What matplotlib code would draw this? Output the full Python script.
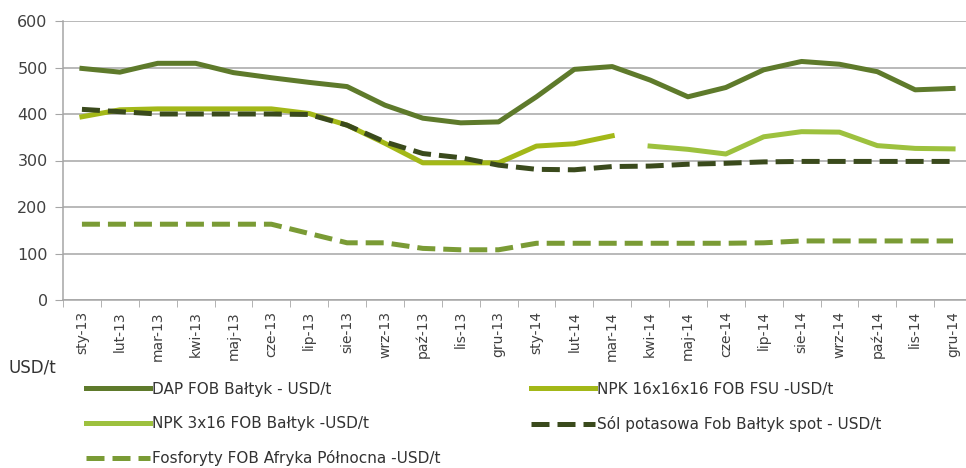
import numpy as np
import matplotlib
matplotlib.use("Agg")
import matplotlib.pyplot as plt

months = ["sty-13", "lut-13", "mar-13", "kwi-13", "maj-13", "cze-13", "lip-13", "sie-13",
          "wrz-13", "paź-13", "lis-13", "gru-13", "sty-14", "lut-14", "mar-14", "kwi-14",
          "maj-14", "cze-14", "lip-14", "sie-14", "wrz-14", "paź-14", "lis-14", "gru-14"]

dap = [498, 490, 509, 509, 489, 478, 468, 459, 419, 391, 381, 383,
       437, 496, 502, 473, 437, 457, 495, 513, 507, 491, 452, 455]
npk16 = [394, 409, 411, 411, 411, 411, 401, 376, 337, 295, 295, 295,
         331, 336, 353, np.nan, np.nan, np.nan, np.nan, np.nan, np.nan, np.nan, np.nan, np.nan]
npk3 = [np.nan] * 15 + [331, 324, 314, 351, 362, 361, 332, 326, 325]
sol = [410, 405, 400, 400, 400, 400, 399, 376, 340, 315, 306, 290,
       281, 280, 287, 288, 292, 294, 297, 298, 298, 298, 298, 298]
fosf = [163, 163, 163, 163, 163, 163, 143, 123, 123, 111, 108, 108,
        122, 122, 122, 122, 122, 122, 123, 127, 127, 127, 127, 127]

labels = ["DAP FOB Bałtyk - USD/t", "NPK 16x16x16 FOB FSU -USD/t",
          "NPK 3x16 FOB Bałtyk -USD/t", "Sól potasowa Fob Bałtyk spot - USD/t",
          "Fosforyty FOB Afryka Północna -USD/t"]
yticks = [0, 100, 200, 300, 400, 500, 600]

plt.rcParams['font.family'] = ['DejaVu Sans']

fig = plt.figure(figsize=(9.66, 4.68), dpi=100)
W, H = 966, 468
ax = fig.add_axes([63 / W, (H - 300) / H, (972 - 63) / W, (300 - 21) / H])

x = np.arange(len(months))
lw = 3.6
c_dap, c_npk16, c_npk3, c_sol, c_fosf = "#5E7A2B", "#A3B818", "#9DC13E", "#3A4A1C", "#7A9B35"

h1, = ax.plot(x, dap, color=c_dap, lw=lw, solid_joinstyle='round', label=labels[0])
h2, = ax.plot(x, npk16, color=c_npk16, lw=lw, solid_joinstyle='round', label=labels[1])
h3, = ax.plot(x, npk3, color=c_npk3, lw=lw, solid_joinstyle='round', label=labels[2])
h4, = ax.plot(x, sol, color=c_sol, lw=lw, linestyle=(0, (3.6, 1.6)), label=labels[3])
h5, = ax.plot(x, fosf, color=c_fosf, lw=lw, linestyle=(0, (3.6, 1.6)), label=labels[4])

ax.set_xlim(-0.5, len(months) - 0.5)
ax.set_ylim(0, 600)
ax.set_yticks(yticks)
ax.set_yticklabels([str(v) for v in yticks], fontsize=11.5, color="#404040")
ax.yaxis.grid(True, color="#A6A6A6", lw=1.1)
ax.set_axisbelow(True)
ax.tick_params(axis='y', length=6, color="#A6A6A6", pad=5)

ax.set_xticks(x)
ax.set_xticklabels(months, rotation=90, fontsize=10, color="#404040")
ax.set_xticks(np.arange(-0.5, len(months)), minor=True)
ax.tick_params(axis='x', which='major', length=0, pad=8)
ax.tick_params(axis='x', which='minor', length=5, color="#A6A6A6")

for s in ['top', 'right']:
    ax.spines[s].set_visible(False)
for s in ['left', 'bottom']:
    ax.spines[s].set_color("#A6A6A6")
    ax.spines[s].set_linewidth(1.1)

fig.text(8 / W, 1 - 368 / H, "USD/t", fontsize=12, color="#333333", va='center', ha='left')

leg = fig.legend([h1, h3, h5, h2, h4], [labels[0], labels[2], labels[4], labels[1], labels[3]],
                 ncol=2, loc='upper left', bbox_to_anchor=(72 / W, 1 - 368 / H),
                 frameon=False, fontsize=11, handlelength=4.2, handletextpad=0.13,
                 labelspacing=1.25, columnspacing=5.9, labelcolor="#333333")

fig.savefig("out.png", dpi=100)
